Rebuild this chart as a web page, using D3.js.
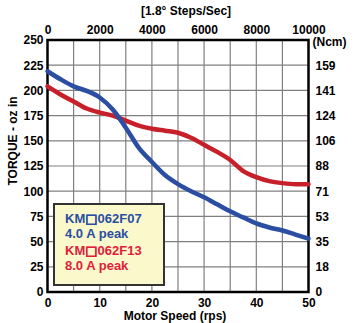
<!DOCTYPE html>
<html>
<head>
<meta charset="utf-8">
<script src="https://cdn.jsdelivr.net/npm/d3@7"></script>
<style>
  body { margin: 0; background: #fff; }
  text { font-family: "Liberation Sans", Arial, sans-serif; font-weight: bold; }
</style>
</head>
<body>
<svg id="chart" width="360" height="323"></svg>
<script>
// speeds in rps, torque in oz-in
const speed = [0, 2.5, 5, 7.5, 10, 12.5, 15, 17.5, 20, 22.5, 25, 27.5, 30, 32.5, 35, 37.5, 40, 42.5, 45, 47.5, 50];
const torqueF07 = [219, 211, 204, 199.5, 193, 181, 163, 143, 129, 116, 107, 100, 94, 87, 80, 74, 68, 64, 61, 57, 53];
const torqueF13 = [204, 196, 189, 182, 178, 175, 170, 165, 162, 160, 158, 153, 146, 139, 131, 120, 114, 110, 108, 107, 107];

const bottomTicks = [0, 10, 20, 30, 40, 50];
const topTickLabels = ['0', '2000', '4000', '6000', '8000', '10000'];
const leftTicks = [0, 25, 50, 75, 100, 125, 150, 175, 200, 225, 250];
const rightTickLabels = ['0', '18', '35', '53', '71', '88', '106', '124', '141', '159'];

const legendItems = [
  { pre: 'KM', box: '\u25A1', post: '062F07', peak: '4.0 A peak', color: '#2b4ea2' },
  { pre: 'KM', box: '\u25A1', post: '062F13', peak: '8.0 A peak', color: '#e0203a' }
];

const svg = d3.select('#chart');
const plotL = 47.5, plotR = 308.5, plotT = 40, plotB = 292;

const x = d3.scaleLinear().domain([0, 50]).range([plotL, plotR]);
const y = d3.scaleLinear().domain([0, 250]).range([plotB, plotT]);

// grid
const grid = svg.append('g').attr('stroke', '#808080').attr('stroke-width', 1.2);
grid.selectAll('.vg')
  .data(d3.range(5, 50, 5))
  .enter().append('line')
  .attr('x1', d => x(d)).attr('x2', d => x(d))
  .attr('y1', plotT).attr('y2', plotB);
grid.selectAll('.hg')
  .data(leftTicks.slice(1, -1))
  .enter().append('line')
  .attr('x1', plotL).attr('x2', plotR)
  .attr('y1', d => y(d)).attr('y2', d => y(d));

// frame
svg.append('rect')
  .attr('x', plotL).attr('y', plotT)
  .attr('width', plotR - plotL).attr('height', plotB - plotT)
  .attr('fill', 'none').attr('stroke', '#000').attr('stroke-width', 2.5);

// axes
const fs = '12px';
const ff = '"Liberation Sans", Arial, sans-serif';
function styleAxis(g) {
  g.select('.domain').remove();
  g.selectAll('text').attr('font-size', fs).attr('fill', '#000').attr('font-family', ff);
}

svg.append('g')
  .attr('transform', `translate(0,${plotB})`)
  .call(d3.axisBottom(x).tickValues(bottomTicks).tickSize(0).tickPadding(6))
  .call(styleAxis);

svg.append('g')
  .attr('transform', `translate(0,${plotT})`)
  .call(d3.axisTop(x).tickValues(bottomTicks).tickSize(0).tickPadding(6)
    .tickFormat((d, i) => topTickLabels[i]))
  .call(styleAxis);

svg.append('g')
  .attr('transform', `translate(${plotL},0)`)
  .call(d3.axisLeft(y).tickValues(leftTicks).tickSize(0).tickPadding(4))
  .call(styleAxis);

svg.append('g')
  .attr('transform', `translate(${plotR},0)`)
  .call(d3.axisRight(y).tickValues(leftTicks.slice(0, -1)).tickSize(0).tickPadding(7)
    .tickFormat((d, i) => rightTickLabels[i]))
  .call(styleAxis);

svg.append('text').attr('x', plotR + 4).attr('y', 46)
  .attr('font-size', fs).text('(Ncm)');

// titles
svg.append('text').attr('x', 186).attr('y', 15).attr('text-anchor', 'middle')
  .attr('font-size', fs).text('[1.8\u00B0 Steps/Sec]');
svg.append('text').attr('x', 175).attr('y', 320).attr('text-anchor', 'middle')
  .attr('font-size', fs).text('Motor Speed (rps)');
svg.append('text')
  .attr('transform', `translate(17,${(plotT + plotB) / 2 - 25}) rotate(-90)`)
  .attr('text-anchor', 'middle').attr('font-size', fs).text('TORQUE - oz in');

// curves
const line = d3.line().x((d, i) => x(speed[i])).y(d => y(d)).curve(d3.curveMonotoneX);
svg.append('path').datum(torqueF13)
  .attr('d', line).attr('fill', 'none').attr('stroke', '#c8202a')
  .attr('stroke-width', 4.5).attr('stroke-linecap', 'round');
svg.append('path').datum(torqueF07)
  .attr('d', line).attr('fill', 'none').attr('stroke', '#2b4ea2')
  .attr('stroke-width', 4.5).attr('stroke-linecap', 'round');

// legend box
const lg = svg.append('g').attr('transform', 'translate(54,204)');
lg.append('rect').attr('width', 110).attr('height', 81)
  .attr('fill', '#fbf8cc').attr('stroke', '#333').attr('stroke-width', 2);
legendItems.forEach((item, i) => {
  const t = lg.append('text').attr('x', 11).attr('y', 19 + i * 32)
    .attr('fill', item.color).attr('font-size', '13px');
  t.append('tspan').text(item.pre);
  t.append('tspan').attr('font-family', '"DejaVu Sans"')
    .attr('stroke', item.color).attr('stroke-width', 0.8).text(item.box);
  t.append('tspan').text(item.post);
  lg.append('text').attr('x', 11).attr('y', 34 + i * 32)
    .attr('fill', item.color).attr('font-size', '13px').text(item.peak);
});
</script>
</body>
</html>
